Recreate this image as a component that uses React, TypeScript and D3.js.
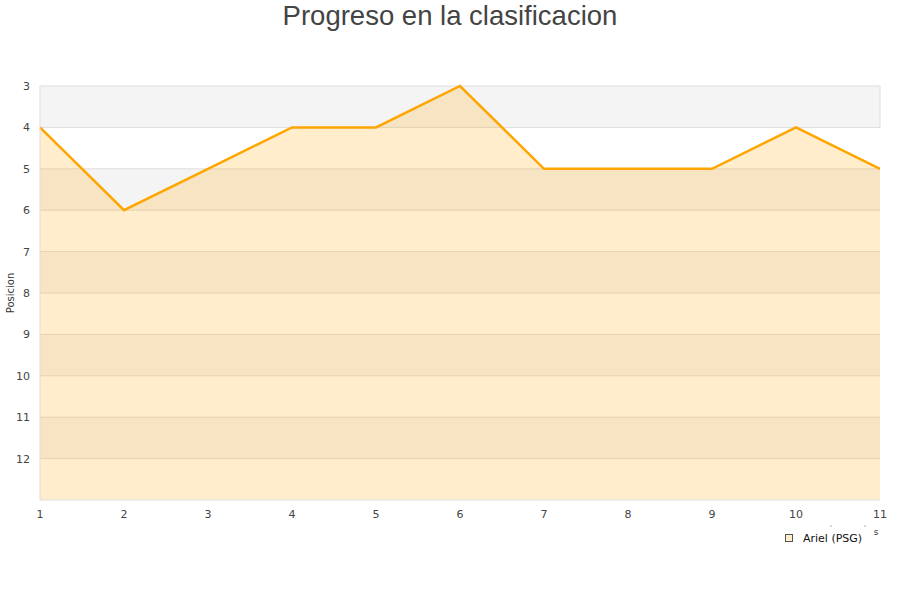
import { area as d3Area, line as d3Line, range, scaleLinear } from "d3";

const jornadas = [1, 2, 3, 4, 5, 6, 7, 8, 9, 10, 11];
const posiciones = [4, 6, 5, 4, 4, 3, 5, 5, 5, 4, 5];
const yTickValues = [3, 4, 5, 6, 7, 8, 9, 10, 11, 12];
const seriesName = "Ariel (PSG)";
const title = "Progreso en la clasificacion";

const width = 900;
const height = 600;
const margin = { top: 86, right: 20, bottom: 100, left: 40 };

export default function App() {
  const x = scaleLinear()
    .domain([1, 11])
    .range([margin.left, width - margin.right]);
  const y = scaleLinear()
    .domain([3, 13])
    .range([margin.top, height - margin.bottom]);

  const pts = jornadas.map((j, i) => ({ j, p: posiciones[i] }));

  const areaPath =
    d3Area<{ j: number; p: number }>()
      .x((d) => x(d.j))
      .y0(() => y(13))
      .y1((d) => y(d.p))(pts) ?? "";
  const linePath =
    d3Line<{ j: number; p: number }>()
      .x((d) => x(d.j))
      .y((d) => y(d.p))(pts) ?? "";

  const bands = range(3, 13);

  return (
    <svg
      width={width}
      height={height}
      style={{ position: "absolute", left: 0, top: 0, background: "#fff" }}
    >
      <text
        x={width / 2}
        y={25}
        textAnchor="middle"
        fontFamily="Liberation Sans, Arial, sans-serif"
        fontSize={27.5}
        fill="#444"
      >
        {title}
      </text>

      {bands.map((b, i) => (
        <rect
          key={b}
          x={x(1)}
          y={y(b)}
          width={x(11) - x(1)}
          height={y(b + 1) - y(b)}
          fill={i % 2 === 0 ? "#f4f4f4" : "#ffffff"}
        />
      ))}

      {yTickValues.map((t) => (
        <line
          key={`g-${t}`}
          x1={x(1)}
          x2={x(11)}
          y1={y(t)}
          y2={y(t)}
          stroke="#dddddd"
          strokeWidth={1}
        />
      ))}

      <path d={areaPath} fill="#ffa500" fillOpacity={0.2} />
      <path
        d={linePath}
        fill="none"
        stroke="#ffa500"
        strokeWidth={2.5}
        strokeLinejoin="miter"
      />

      <line x1={x(1)} x2={x(1)} y1={y(3)} y2={y(13)} stroke="#dddddd" />
      <line x1={x(11)} x2={x(11)} y1={y(3)} y2={y(4)} stroke="#dddddd" />
      <line x1={x(1)} x2={x(11)} y1={y(13)} y2={y(13)} stroke="#dddddd" />

      {yTickValues.map((t) => (
        <text
          key={`y-${t}`}
          x={30}
          y={y(t) + 4}
          textAnchor="end"
          fontFamily="DejaVu Sans, sans-serif"
          fontSize={11}
          fill="#444"
        >
          {t}
        </text>
      ))}

      {jornadas.map((j) => (
        <text
          key={`x-${j}`}
          x={x(j)}
          y={y(13) + 18}
          textAnchor="middle"
          fontFamily="DejaVu Sans, sans-serif"
          fontSize={11}
          fill="#444"
        >
          {j}
        </text>
      ))}

      <text
        transform={`translate(14, ${(y(3) + y(13)) / 2}) rotate(-90)`}
        textAnchor="middle"
        fontFamily="DejaVu Sans, sans-serif"
        fontSize={10}
        fill="#333"
      >
        Posicion
      </text>

      <text
        x={876}
        y={535}
        textAnchor="middle"
        fontFamily="DejaVu Sans, sans-serif"
        fontSize={9}
        fill="#333"
      >
        s
      </text>
      <circle cx={831} cy={526} r={0.6} fill="#555" />
      <circle cx={865} cy={526} r={0.6} fill="#555" />

      <rect
        x={785.5}
        y={534.5}
        width={7}
        height={7}
        fill="#ffedcc"
        stroke="#555"
        strokeWidth={1}
      />
      <text
        x={803}
        y={542}
        fontFamily="DejaVu Sans, sans-serif"
        fontSize={11}
        fill="#111"
      >
        {seriesName}
      </text>
    </svg>
  );
}
